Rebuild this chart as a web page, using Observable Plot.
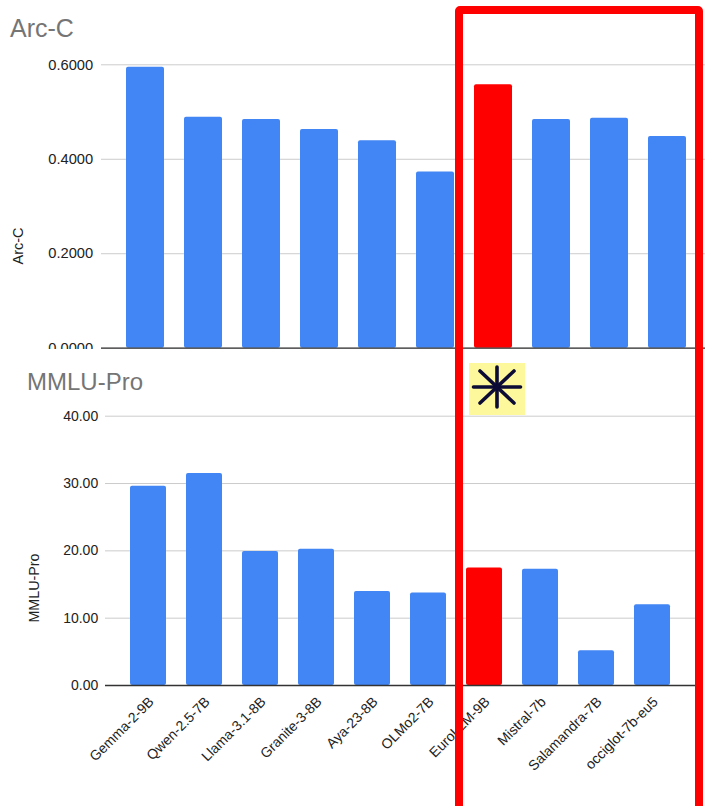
<!DOCTYPE html>
<html>
<head>
<meta charset="utf-8">
<script src="https://cdn.jsdelivr.net/npm/d3@7"></script>
<script src="https://cdn.jsdelivr.net/npm/@observablehq/plot@0.6"></script>
<style>
  html, body { margin: 0; padding: 0; background: #fff; overflow: hidden; }
  body { width: 705px; height: 806px; position: relative; font-family: "Liberation Sans", Arial, sans-serif; }
  #topChart { position: absolute; left: 0; top: 0; }
  #bottomChart { position: absolute; left: 0; top: 349px; }
  .title { position: absolute; color: #757575; white-space: nowrap; }
  #t1 { left: 10px; top: 15.5px; font-size: 25px; line-height: 25px; }
  #t2 { left: 27px; top: 369.5px; font-size: 24px; line-height: 24px; }
  .ylab { position: absolute; color: #222; white-space: nowrap; line-height: 1; transform: translate(-50%, -50%) rotate(-90deg); }
  #y1 { left: 17.5px; top: 246px; font-size: 14.5px; }
  #y2 { left: 34px; top: 588px; font-size: 14.3px; }
  #box { position: absolute; left: 455px; top: 6px; width: 232px; height: 800px; border: 8px solid #ff0000; border-radius: 5px; box-sizing: content-box; pointer-events: none; }
  #star { position: absolute; left: 469px; top: 363px; width: 56px; height: 52px; background: #fdf89c; }
</style>
</head>
<body>
<div id="topChart"></div>
<div id="bottomChart"></div>
<div class="title" id="t1"></div>
<div class="title" id="t2"></div>
<div class="ylab" id="y1"></div>
<div class="ylab" id="y2"></div>
<div id="star"><svg width="56" height="52" viewBox="0 0 56 52">
  <g stroke="#0b0b35" stroke-width="3.6" stroke-linecap="round">
    <line x1="4.5" y1="24" x2="51.5" y2="24"/>
    <line x1="28" y1="4" x2="28" y2="44"/>
    <line x1="11" y1="8" x2="45" y2="40"/>
    <line x1="45" y1="8" x2="11" y2="40"/>
  </g></svg></div>
<div id="box"></div>
<script>
// ---- data ----
const models = ["Gemma-2-9B", "Qwen-2.5-7B", "Llama-3.1-8B", "Granite-3-8B", "Aya-23-8B",
                "OLMo2-7B", "EuroLLM-9B", "Mistral-7b", "Salamandra-7B", "occiglot-7b-eu5"];
const arcC    = [0.595, 0.489, 0.484, 0.463, 0.439, 0.373, 0.558, 0.484, 0.487, 0.448];
const mmluPro = [29.6, 31.5, 19.9, 20.25, 13.95, 13.75, 17.45, 17.25, 5.15, 12.0];
const highlight = "EuroLLM-9B";
const arcTicks  = [0, 0.2, 0.4, 0.6];
const mmluTicks = [0, 10, 20, 30, 40];
const arcLabel = "Arc-C";
const mmluLabel = "MMLU-Pro";

document.getElementById("t1").textContent = arcLabel;
document.getElementById("t2").textContent = mmluLabel;
document.getElementById("y1").textContent = arcLabel;
document.getElementById("y2").textContent = mmluLabel;

const BLUE = "#4285f4", RED = "#ff0000";
const arcData  = models.map((m, i) => ({model: m, value: arcC[i]}));
const mmluData = models.map((m, i) => ({model: m, value: mmluPro[i]}));
const colorOf = d => d.model === highlight ? RED : BLUE;
const font = "'Liberation Sans', Arial, sans-serif";

// ---- top chart: Arc-C ----
const arcPlot = Plot.plot({
  width: 705, height: 349,
  marginLeft: 101, marginRight: 0, marginTop: 64.3, marginBottom: 1.3,
  style: {fontFamily: font, background: "transparent", color: "#222"},
  x: {domain: models, range: [101, 711], padding: 0.35, axis: null},
  y: {domain: [0, 0.6], axis: null},
  marks: [
    Plot.gridY(arcTicks, {stroke: "#cccccc", strokeOpacity: 1, strokeWidth: 1}),
    Plot.barY(arcData, {x: "model", y: "value", fill: colorOf, rx: 2}),
    Plot.ruleY([0], {stroke: "#333", strokeWidth: 1.3}),
    Plot.axisY(arcTicks, {tickFormat: d3.format(".4f"), tickSize: 0, tickPadding: 8.3, fontSize: 14.7, fill: "#222", label: null})
  ]
});
document.getElementById("topChart").appendChild(arcPlot);

// ---- bottom chart: MMLU-Pro ----
const mmluPlot = Plot.plot({
  width: 705, height: 457,
  marginLeft: 105, marginRight: 7, marginTop: 66.7, marginBottom: 121,
  style: {fontFamily: font, background: "transparent", color: "#222"},
  x: {domain: models, range: [105.5, 694.5], padding: 0.35, axis: null},
  y: {domain: [0, 40], axis: null},
  marks: [
    Plot.gridY(mmluTicks, {stroke: "#cccccc", strokeOpacity: 1, strokeWidth: 1}),
    Plot.barY(mmluData, {x: "model", y: "value", fill: colorOf, rx: 2}),
    Plot.ruleY([0], {stroke: "#333", strokeWidth: 1.3}),
    Plot.axisY(mmluTicks, {tickFormat: d3.format(".2f"), tickSize: 0, tickPadding: 7.3, fontSize: 14, fill: "#222", label: null}),
    Plot.axisX({tickRotate: -45, tickSize: 0, tickPadding: 14, dx: 3, fontSize: 14, fill: "#222", label: null})
  ]
});
document.getElementById("bottomChart").appendChild(mmluPlot);
</script>
</body>
</html>
